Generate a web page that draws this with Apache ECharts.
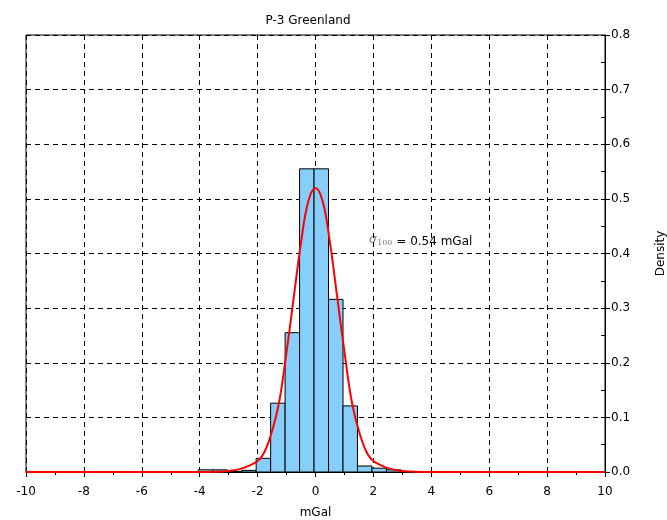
<!DOCTYPE html>
<html>
<head>
<meta charset="utf-8">
<script src="https://cdn.jsdelivr.net/npm/echarts@6/dist/echarts.min.js"></script>
<style>
  html, body { margin: 0; padding: 0; background: #fff; }
  #chart { width: 667px; height: 520px; }
</style>
</head>
<body>
<div id="chart"></div>
<script>
// histogram bins (left edge, mGal) and densities
const binStarts = [-4.05, -3.55, -3.05, -2.55, -2.05, -1.55, -1.05, -0.55, -0.05, 0.45, 0.95, 1.45, 1.95, 2.45];
const binWidth = 0.5;
const densities = [0.004, 0.004, 0.001, 0.003, 0.025, 0.126, 0.255, 0.555, 0.555, 0.316, 0.121, 0.011, 0.007, 0.004];

// fitted normal curve
const curveX = [-10, -4, -3, -2.5, -2, -1.75, -1.5, -1.25, -1, -0.75, -0.5, -0.25, 0, 0.25, 0.5, 0.75, 1, 1.25, 1.5, 1.75, 2, 2.5, 3, 4, 10];
const curveY = [0, 0, 0.002, 0.007, 0.02, 0.038, 0.075, 0.13, 0.22, 0.32, 0.42, 0.495, 0.52, 0.495, 0.42, 0.32, 0.22, 0.13, 0.075, 0.038, 0.02, 0.007, 0.002, 0, 0];

const chartTitle = 'P-3 Greenland';
const xName = 'mGal';
const yName = 'Density';

const font = 'DejaVu Sans, Liberation Sans, sans-serif';
let myChart = echarts.init(document.getElementById('chart'));

let histData = binStarts.map((s, i) => [s, s + binWidth, densities[i]]);
let curveData = curveX.map((x, i) => [x, curveY[i]]);

let option = {
  animation: false,
  textStyle: { fontFamily: font },
  title: {
    text: chartTitle,
    left: 303,
    top: 10,
    textAlign: 'center',
    textStyle: { fontSize: 12, fontWeight: 'normal', color: '#000', fontFamily: font }
  },
  grid: {
    left: 26,
    right: 62,
    top: 35,
    bottom: 48,
    containLabel: false,
    outerBoundsMode: 'none',
    show: true,
    borderColor: '#000',
    borderWidth: 1,
    backgroundColor: 'transparent'
  },
  xAxis: {
    type: 'value',
    min: -10,
    max: 10,
    interval: 2,
    name: xName,
    nameLocation: 'middle',
    nameGap: 35,
    nameTextStyle: { fontSize: 12, color: '#000', fontFamily: font },
    axisLine: { onZero: false, lineStyle: { color: '#000', width: 1 } },
    axisTick: { show: true, length: 5, lineStyle: { color: '#000' } },
    minorTick: { show: true, splitNumber: 2, length: 3, lineStyle: { color: '#000' } },
    axisLabel: { fontSize: 12, color: '#000', margin: 14, fontFamily: font },
    splitLine: { show: true, lineStyle: { color: '#000', type: [5, 4], width: 1 } }
  },
  yAxis: [
    {
      type: 'value',
      position: 'right',
      min: 0,
      max: 0.8,
      interval: 0.1,
      name: yName,
      nameLocation: 'middle',
      nameRotate: 90,
      nameGap: 50,
      nameTextStyle: { fontSize: 12, color: '#000', fontFamily: font },
      axisLine: { show: true, onZero: false, lineStyle: { color: '#000', width: 1 } },
      axisTick: { show: true, length: 5, lineStyle: { color: '#000' } },
      axisLabel: {
        fontSize: 12,
        color: '#000',
        margin: 6,
        fontFamily: font,
        formatter: v => v.toFixed(1)
      },
      splitLine: { show: true, lineStyle: { color: '#000', type: [5, 4], width: 1 } }
    },
    {
      // inward half-step ticks
      type: 'value',
      position: 'right',
      min: 0,
      max: 0.8,
      interval: 0.05,
      axisLine: { show: false, onZero: false },
      axisTick: { show: true, inside: true, length: 4, lineStyle: { color: '#000' } },
      axisLabel: { show: false },
      splitLine: { show: false }
    }
  ],
  graphic: [
    {
      type: 'text',
      left: 369,
      top: 234,
      style: {
        text: '{s|σ}{sub|100}{t| = 0.54 mGal}',
        rich: {
          s: { fontFamily: 'DejaVu Serif, serif', fontStyle: 'italic', fontSize: 12, fill: '#777' },
          sub: { fontFamily: 'DejaVu Serif, serif', fontSize: 8, fill: '#777', padding: [5, 0, 0, 0] },
          t: { fontFamily: font, fontSize: 12, fill: '#000', padding: [4, 0, 0, 0] }
        }
      }
    }
  ],
  series: [
    {
      type: 'custom',
      name: 'hist',
      yAxisIndex: 0,
      z: 2,
      data: histData,
      encode: { x: [0, 1], y: 2 },
      renderItem: (params, api) => {
        let p0 = api.coord([api.value(0), api.value(2)]);
        let p1 = api.coord([api.value(1), 0]);
        return {
          type: 'rect',
          shape: { x: p0[0], y: p0[1], width: p1[0] - p0[0], height: p1[1] - p0[1] },
          style: { fill: '#87cefa', stroke: '#000', lineWidth: 1 }
        };
      }
    },
    {
      type: 'line',
      name: 'fit',
      yAxisIndex: 0,
      z: 3,
      data: curveData,
      smooth: 0.4,
      showSymbol: false,
      symbol: 'none',
      lineStyle: { color: '#ff0000', width: 2 }
    }
  ]
};

myChart.setOption(option);
</script>
</body>
</html>
